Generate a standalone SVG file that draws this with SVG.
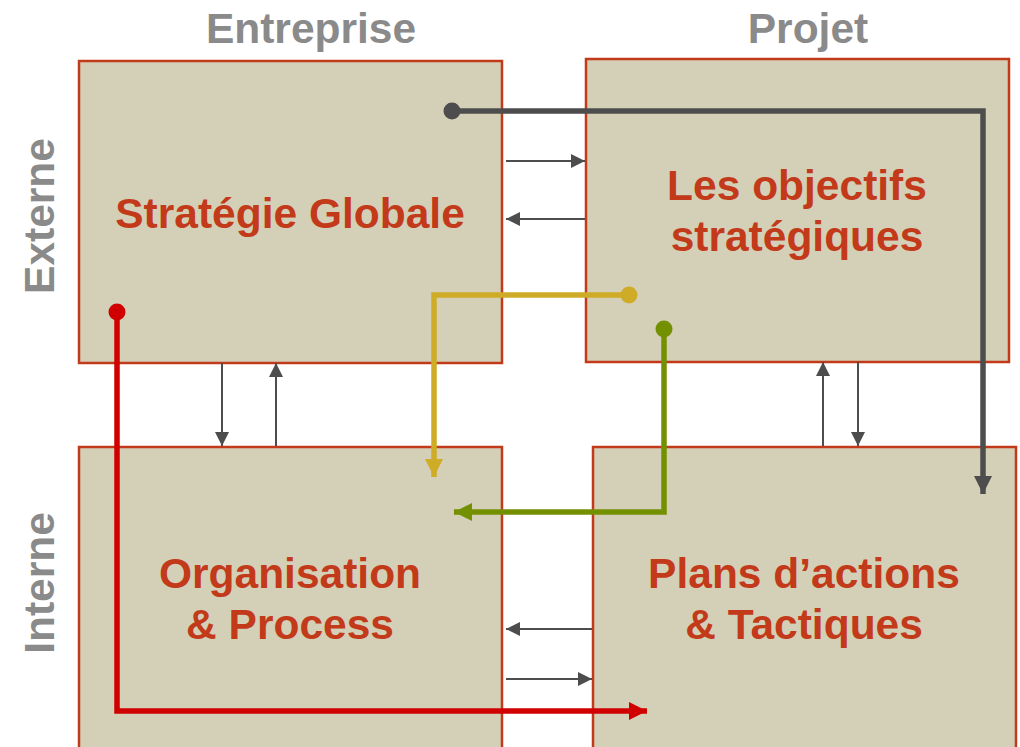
<svg xmlns="http://www.w3.org/2000/svg" width="1020" height="747" viewBox="0 0 1020 747">
  <style>
    .box { fill: #d4d0b7; stroke: #c23a1a; stroke-width: 2.5; }
    .label { font-family: "Liberation Sans", Arial, sans-serif; font-weight: bold; font-size: 42.5px; fill: #c23a1a; text-anchor: middle; }
    .axis { font-family: "Liberation Sans", Arial, sans-serif; font-weight: bold; font-size: 42.5px; fill: #8a8a8a; text-anchor: middle; }
    .thin { fill: none; stroke: #4d4d4d; stroke-width: 2; }
    .route { fill: none; stroke-width: 5.5; stroke-linejoin: miter; }
  </style>
  <defs>
    <marker id="ah-thin" viewBox="0 0 10 10" refX="10" refY="5" markerWidth="14" markerHeight="14" markerUnits="userSpaceOnUse" orient="auto">
      <path d="M0,0 L10,5 L0,10 Z" fill="#4d4d4d"/>
    </marker>
    <marker id="ah-gray" viewBox="0 0 10 10" refX="10" refY="5" markerWidth="18" markerHeight="18" markerUnits="userSpaceOnUse" orient="auto">
      <path d="M0,0 L10,5 L0,10 Z" fill="#4d4d4d"/>
    </marker>
    <marker id="ah-yellow" viewBox="0 0 10 10" refX="10" refY="5" markerWidth="18" markerHeight="18" markerUnits="userSpaceOnUse" orient="auto">
      <path d="M0,0 L10,5 L0,10 Z" fill="#cfac27"/>
    </marker>
    <marker id="ah-green" viewBox="0 0 10 10" refX="10" refY="5" markerWidth="18" markerHeight="18" markerUnits="userSpaceOnUse" orient="auto">
      <path d="M0,0 L10,5 L0,10 Z" fill="#739000"/>
    </marker>
    <marker id="ah-red" viewBox="0 0 10 10" refX="10" refY="5" markerWidth="18" markerHeight="18" markerUnits="userSpaceOnUse" orient="auto">
      <path d="M0,0 L10,5 L0,10 Z" fill="#d00000"/>
    </marker>
  </defs>

  <!-- column and row headings -->
  <text class="axis" x="311" y="43">Entreprise</text>
  <text class="axis" x="808" y="43">Projet</text>
  <text class="axis" transform="translate(54,216) rotate(-90)">Externe</text>
  <text class="axis" transform="translate(54,583) rotate(-90)">Interne</text>

  <g id="strategie-globale">
    <rect class="box" x="79" y="61" width="423" height="302"/>
    <text class="label" x="290" y="228">Stratégie Globale</text>
  </g>

  <g id="objectifs-strategiques">
    <rect class="box" x="586" y="59" width="423" height="303"/>
    <text class="label" x="797" y="200">Les objectifs</text>
    <text class="label" x="797" y="251">stratégiques</text>
  </g>

  <g id="organisation-process">
    <rect class="box" x="79" y="447" width="423" height="310"/>
    <text class="label" x="290" y="588">Organisation</text>
    <text class="label" x="290" y="639">&amp; Process</text>
  </g>

  <g id="plans-actions">
    <rect class="box" x="593" y="447" width="423" height="310"/>
    <text class="label" x="804" y="588">Plans d’actions</text>
    <text class="label" x="804" y="639">&amp; Tactiques</text>
  </g>

  <g id="connectors">
    <!-- thin exchange arrows between neighbouring boxes -->
    <line class="thin" x1="506" y1="161" x2="585" y2="161" marker-end="url(#ah-thin)"/>
    <line class="thin" x1="585" y1="219" x2="506" y2="219" marker-end="url(#ah-thin)"/>
    <line class="thin" x1="222" y1="363" x2="222" y2="446" marker-end="url(#ah-thin)"/>
    <line class="thin" x1="276" y1="446" x2="276" y2="363" marker-end="url(#ah-thin)"/>
    <line class="thin" x1="823" y1="446" x2="823" y2="362" marker-end="url(#ah-thin)"/>
    <line class="thin" x1="858" y1="362" x2="858" y2="446" marker-end="url(#ah-thin)"/>
    <line class="thin" x1="592" y1="629" x2="506" y2="629" marker-end="url(#ah-thin)"/>
    <line class="thin" x1="506" y1="679" x2="592" y2="679" marker-end="url(#ah-thin)"/>

    <!-- dark grey route -->
    <circle cx="452" cy="111" r="8.5" fill="#4d4d4d"/>
    <path class="route" stroke="#4d4d4d" d="M452,111 H983 V494" marker-end="url(#ah-gray)"/>

    <!-- yellow route -->
    <circle cx="629" cy="295" r="8.5" fill="#cfac27"/>
    <path class="route" stroke="#cfac27" d="M629,295 H434 V477" marker-end="url(#ah-yellow)"/>

    <!-- green route -->
    <circle cx="664" cy="329" r="8.5" fill="#739000"/>
    <path class="route" stroke="#739000" d="M664,329 V512 H454" marker-end="url(#ah-green)"/>

    <!-- red route -->
    <circle cx="117" cy="312" r="8.5" fill="#d00000"/>
    <path class="route" stroke="#d00000" d="M117,312 V711 H647" marker-end="url(#ah-red)"/>
  </g>
</svg>
